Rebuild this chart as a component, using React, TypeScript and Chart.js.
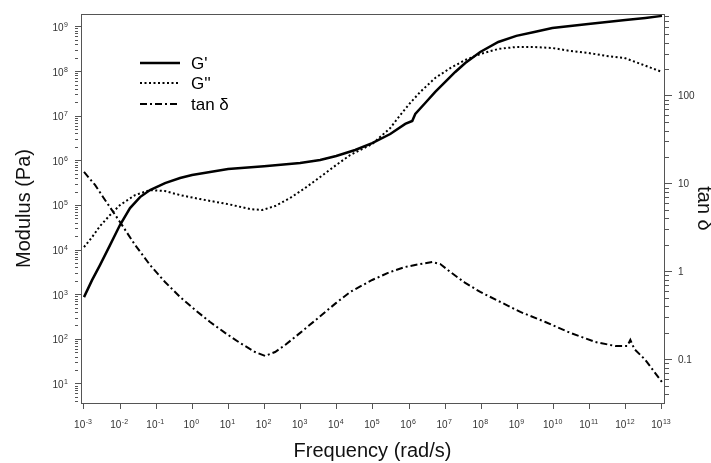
import React, { useEffect, useRef } from 'react';
import { Chart, registerables } from 'chart.js';

Chart.register(...registerables);

const FONT = "'Liberation Sans', Arial, Helvetica, sans-serif";
const AXIS_COLOR = '#555555';
const TEXT_COLOR = '#333333';

// ---- data ----
const gPrimeFreq = [1e-3, 1.67e-3, 2.77e-3, 5.25e-3, 9.9e-3, 1.88e-2, 3.56e-2, 6.73e-2, 0.175, 0.456, 0.98, 3.09, 9.75, 96.8, 962, 3440, 9570, 3.21e4, 9.5e4, 3.0e5, 7.8e5, 1.22e6, 1.48e6, 2.79e6, 5.28e6, 1e7, 1.89e7, 3.58e7, 9.3e7, 2.94e8, 9.27e8, 2.92e9, 9.2e9, 9.1e10, 9.7e11, 3.47e12, 1e13];
const gPrimeVal = [883, 2120, 4610, 1.29e4, 3.64e4, 8.75e4, 1.54e5, 2.21e5, 3.18e5, 4.11e5, 4.8e5, 5.6e5, 6.55e5, 7.6e5, 8.9e5, 1.04e6, 1.28e6, 1.75e6, 2.5e6, 3.99e6, 6.7e6, 7.8e6, 1.12e7, 1.98e7, 3.49e7, 5.85e7, 9.8e7, 1.56e8, 2.75e8, 4.6e8, 6.3e8, 7.7e8, 9.5e8, 1.17e9, 1.43e9, 1.59e9, 1.77e9];

const gDoublePrimeFreq = [1e-3, 1.67e-3, 2.77e-3, 5.25e-3, 9.9e-3, 2.59e-2, 6.73e-2, 0.175, 0.456, 1.63, 9.75, 39.6, 85.3, 195, 508, 1320, 3440, 9570, 2.34e4, 9.5e4, 3.0e5, 5.67e5, 1.07e6, 2.03e6, 5.28e6, 1.38e7, 3.58e7, 9.3e7, 2.94e8, 9.27e8, 2.92e9, 9.2e9, 2.9e10, 9.1e10, 2.88e11, 9.1e11, 3.05e12, 1e13];
const gDoublePrimeVal = [1.17e4, 1.95e4, 3.45e4, 6.1e4, 1.02e5, 1.71e5, 2.21e5, 2.1e5, 1.71e5, 1.39e5, 1.07e5, 8.3e4, 7.9e4, 9.7e4, 1.47e5, 2.46e5, 4.33e5, 8.05e5, 1.35e6, 2.38e6, 5.43e6, 1.06e7, 1.98e7, 3.49e7, 7.2e7, 1.2e8, 1.82e8, 2.48e8, 3.21e8, 3.56e8, 3.56e8, 3.38e8, 2.9e8, 2.61e8, 2.24e8, 2.02e8, 1.41e8, 9.8e7];

const tanDeltaFreq = [1e-3, 2.02e-3, 3.82e-3, 9.9e-3, 2.59e-2, 6.73e-2, 0.175, 0.456, 1.19, 3.09, 8.05, 20.9, 54.6, 103, 195, 370, 962, 3030, 9570, 2.34e4, 9.5e4, 3.0e5, 7.8e5, 2.03e6, 4.36e6, 7.3e6, 1.38e7, 3.58e7, 9.3e7, 3.34e8, 1.2e9, 5.9e9, 2.9e10, 1.43e11, 5.1e11, 1.1e12, 1.33e12, 1.72e12, 3.47e12, 1e13];
const tanDeltaVal = [13.7, 9.75, 6.58, 3.7, 2.03, 1.2, 0.769, 0.52, 0.37, 0.27, 0.203, 0.156, 0.123, 0.111, 0.123, 0.148, 0.203, 0.3, 0.445, 0.593, 0.811, 1.0, 1.14, 1.23, 1.3, 1.23, 1.0, 0.75, 0.593, 0.456, 0.351, 0.27, 0.203, 0.16, 0.144, 0.144, 0.169, 0.133, 0.1, 0.056];

const seriesLabels = ["G'", "G''", 'tan \u03b4'];

// tick labels
const xTickExponents = [-3, -2, -1, 0, 1, 2, 3, 4, 5, 6, 7, 8, 9, 10, 11, 12, 13];
const leftTickExponents = [1, 2, 3, 4, 5, 6, 7, 8, 9];
const rightTickValues = [0.1, 1, 10, 100];
const rightTickLabels = ['0.1', '1', '10', '100'];

// axis ranges
const X_MIN = 8.26e-4;
const X_MAX = 1.136e13;
const Y_MIN = 3.75;
const Y_MAX = 1.95e9;
const Y1_MIN = 0.0324;
const Y1_MAX = 855;

const toPoints = (xs: number[], ys: number[]) => xs.map((x, i) => ({ x, y: ys[i] }));

// majors + minor (2..9) ticks within range
function logTicksWithMinors(min: number, max: number, majors: { value: number; label: string; exp?: number }[]) {
  const out: any[] = [];
  const lo = Math.floor(Math.log10(min));
  const hi = Math.ceil(Math.log10(max));
  for (let e = lo; e <= hi; e++) {
    for (let m = 1; m <= 9; m++) {
      const v = m * Math.pow(10, e);
      if (v < min || v > max) continue;
      if (m === 1) {
        const mj = majors.find((t) => Math.abs(Math.log10(t.value) - e) < 1e-6);
        out.push({ value: v, minor: false, text: mj ? mj.label : '', exp: mj ? mj.exp : undefined });
      } else {
        out.push({ value: v, minor: true, text: '' });
      }
    }
  }
  return out;
}

// draws "10" with a raised exponent for the power-of-ten tick labels
const powerLabels = {
  id: 'powerLabels',
  afterDraw(chart: any) {
    const { ctx } = chart;
    const base = `10px ${FONT}`;
    const sup = `7px ${FONT}`;
    const measure = (e: number) => {
      ctx.font = base;
      const w1 = ctx.measureText('10').width;
      ctx.font = sup;
      const w2 = ctx.measureText(String(e)).width;
      return { w1, w2 };
    };
    const draw = (e: number, left: number, baseline: number, w1: number) => {
      ctx.font = base;
      ctx.fillText('10', left, baseline);
      ctx.font = sup;
      ctx.fillText(String(e), left + w1 + 0.5, baseline - 4);
    };
    ctx.save();
    ctx.fillStyle = TEXT_COLOR;
    ctx.textAlign = 'left';
    ctx.textBaseline = 'alphabetic';
    const xs = chart.scales.x;
    xs.ticks.forEach((t: any) => {
      if (t.minor || t.exp === undefined) return;
      const px = xs.getPixelForValue(t.value);
      const { w1, w2 } = measure(t.exp);
      draw(t.exp, px - (w1 + w2 + 0.5) / 2 - 1, xs.top + 25, w1);
    });
    const ys = chart.scales.y;
    ys.ticks.forEach((t: any) => {
      if (t.minor || t.exp === undefined) return;
      const py = ys.getPixelForValue(t.value);
      const { w1, w2 } = measure(t.exp);
      draw(t.exp, ys.right - 13 - (w1 + w2 + 0.5), py + 4, w1);
    });
    ctx.restore();
  },
};

const insideLegend = {
  id: 'insideLegend',
  afterDatasetsDraw(chart: any) {
    const { ctx, chartArea } = chart;
    const x0 = chartArea.left + 59;
    const x1 = chartArea.left + 99;
    const tx = chartArea.left + 110;
    const rows = [chartArea.top + 49, chartArea.top + 69, chartArea.top + 90];
    ctx.save();
    chart.data.datasets.forEach((ds: any, i: number) => {
      const y = rows[i];
      ctx.beginPath();
      ctx.setLineDash(ds.borderDash || []);
      ctx.lineWidth = ds.borderWidth;
      ctx.strokeStyle = ds.borderColor;
      ctx.moveTo(x0, y);
      ctx.lineTo(x1, y);
      ctx.stroke();
      ctx.setLineDash([]);
      ctx.fillStyle = '#000';
      ctx.font = `17px ${FONT}`;
      ctx.textAlign = 'left';
      ctx.textBaseline = 'middle';
      ctx.fillText(ds.label, tx, y + 1);
    });
    ctx.restore();
  },
};

export default function App() {
  const canvasRef = useRef<HTMLCanvasElement | null>(null);

  useEffect(() => {
    if (!canvasRef.current) return;
    const minorDash = (len: number) => (c: any) => (c.tick && c.tick.minor ? [len, 60] : []);

    const chart = new Chart(canvasRef.current, {
      type: 'scatter',
      data: {
        datasets: [
          {
            label: seriesLabels[0],
            data: toPoints(gPrimeFreq, gPrimeVal),
            yAxisID: 'y',
            showLine: true,
            borderColor: '#000',
            borderWidth: 2.5,
            borderDash: [],
            pointRadius: 0,
            tension: 0,
          },
          {
            label: seriesLabels[1],
            data: toPoints(gDoublePrimeFreq, gDoublePrimeVal),
            yAxisID: 'y',
            showLine: true,
            borderColor: '#000',
            borderWidth: 2,
            borderDash: [2, 2.5],
            pointRadius: 0,
            tension: 0,
          },
          {
            label: seriesLabels[2],
            data: toPoints(tanDeltaFreq, tanDeltaVal),
            yAxisID: 'y1',
            showLine: true,
            borderColor: '#000',
            borderWidth: 2,
            borderDash: [7, 3, 2, 3],
            pointRadius: 0,
            tension: 0,
          },
        ],
      },
      options: {
        responsive: false,
        animation: false,
        devicePixelRatio: 1,
        layout: { padding: { top: 14, left: 0, right: 0, bottom: 0 } },
        plugins: {
          legend: { display: false },
          tooltip: { enabled: false },
        },
        scales: {
          x: {
            type: 'logarithmic',
            position: 'bottom',
            min: X_MIN,
            max: X_MAX,
            bounds: 'data',
            afterBuildTicks: (axis: any) => {
              axis.ticks = xTickExponents.map((e) => ({ value: Math.pow(10, e), minor: false, exp: e, text: '10^' + e }));
            },
            afterFit: (axis: any) => {
              axis.height = 60;
            },
            ticks: {
              display: false,
              autoSkip: false,
              maxRotation: 0,
            },
            grid: {
              display: true,
              drawOnChartArea: false,
              drawTicks: true,
              tickLength: 6,
              tickColor: AXIS_COLOR,
              tickWidth: 1,
            },
            border: { display: true, color: AXIS_COLOR, width: 1 },
            title: {
              display: true,
              text: 'Frequency (rad/s)',
              color: '#111',
              font: { family: FONT, size: 20, lineHeight: 1.2 },
              padding: { top: 0, bottom: 0 },
            },
          },
          xTop: {
            type: 'linear',
            position: 'top',
            min: 0,
            max: 1,
            afterFit: (axis: any) => {
              axis.height = 0;
            },
            ticks: { display: false },
            grid: { display: false, drawTicks: false },
            border: { display: true, color: AXIS_COLOR, width: 1 },
          },
          y: {
            type: 'logarithmic',
            position: 'left',
            min: Y_MIN,
            max: Y_MAX,
            bounds: 'data',
            afterBuildTicks: (axis: any) => {
              axis.ticks = logTicksWithMinors(
                Y_MIN,
                Y_MAX,
                leftTickExponents.map((e) => ({ value: Math.pow(10, e), label: '10^' + e, exp: e }))
              );
            },
            afterFit: (axis: any) => {
              axis.width = 81;
            },
            ticks: {
              display: false,
              autoSkip: false,
            },
            grid: {
              display: true,
              drawOnChartArea: false,
              drawTicks: true,
              tickLength: 6,
              tickColor: AXIS_COLOR,
              tickWidth: 1,
              tickBorderDash: minorDash(3),
            },
            border: { display: true, color: AXIS_COLOR, width: 1 },
            title: {
              display: true,
              text: 'Modulus (Pa)',
              color: '#111',
              font: { family: FONT, size: 20, lineHeight: 1.2 },
              padding: { top: 12, bottom: 0 },
            },
          },
          y1: {
            type: 'logarithmic',
            position: 'right',
            min: Y1_MIN,
            max: Y1_MAX,
            bounds: 'data',
            afterBuildTicks: (axis: any) => {
              axis.ticks = logTicksWithMinors(
                Y1_MIN,
                Y1_MAX,
                rightTickValues.map((v, i) => ({ value: v, label: rightTickLabels[i] }))
              );
            },
            afterFit: (axis: any) => {
              axis.width = 47;
            },
            ticks: {
              autoSkip: false,
              padding: 6,
              color: TEXT_COLOR,
              font: { family: FONT, size: 10 },
              callback: (_v: any, i: number, t: any[]) => t[i].text,
            },
            grid: {
              display: true,
              drawOnChartArea: false,
              drawTicks: true,
              tickLength: 8,
              tickColor: AXIS_COLOR,
              tickWidth: 1,
              tickBorderDash: minorDash(4),
            },
            border: { display: true, color: AXIS_COLOR, width: 1 },
            title: {
              display: true,
              text: 'tan \u03b4',
              color: '#111',
              font: { family: FONT, size: 20, lineHeight: 1.2 },
              padding: { top: -5, bottom: 0 },
            },
          },
        },
      } as any,
      plugins: [insideLegend, powerLabels],
    });

    return () => chart.destroy();
  }, []);

  return (
    <div style={{ position: 'fixed', left: 0, top: 0, width: 711, height: 463, background: '#fff' }}>
      <canvas ref={canvasRef} width={711} height={463} style={{ display: 'block', width: 711, height: 463 }} />
    </div>
  );
}
